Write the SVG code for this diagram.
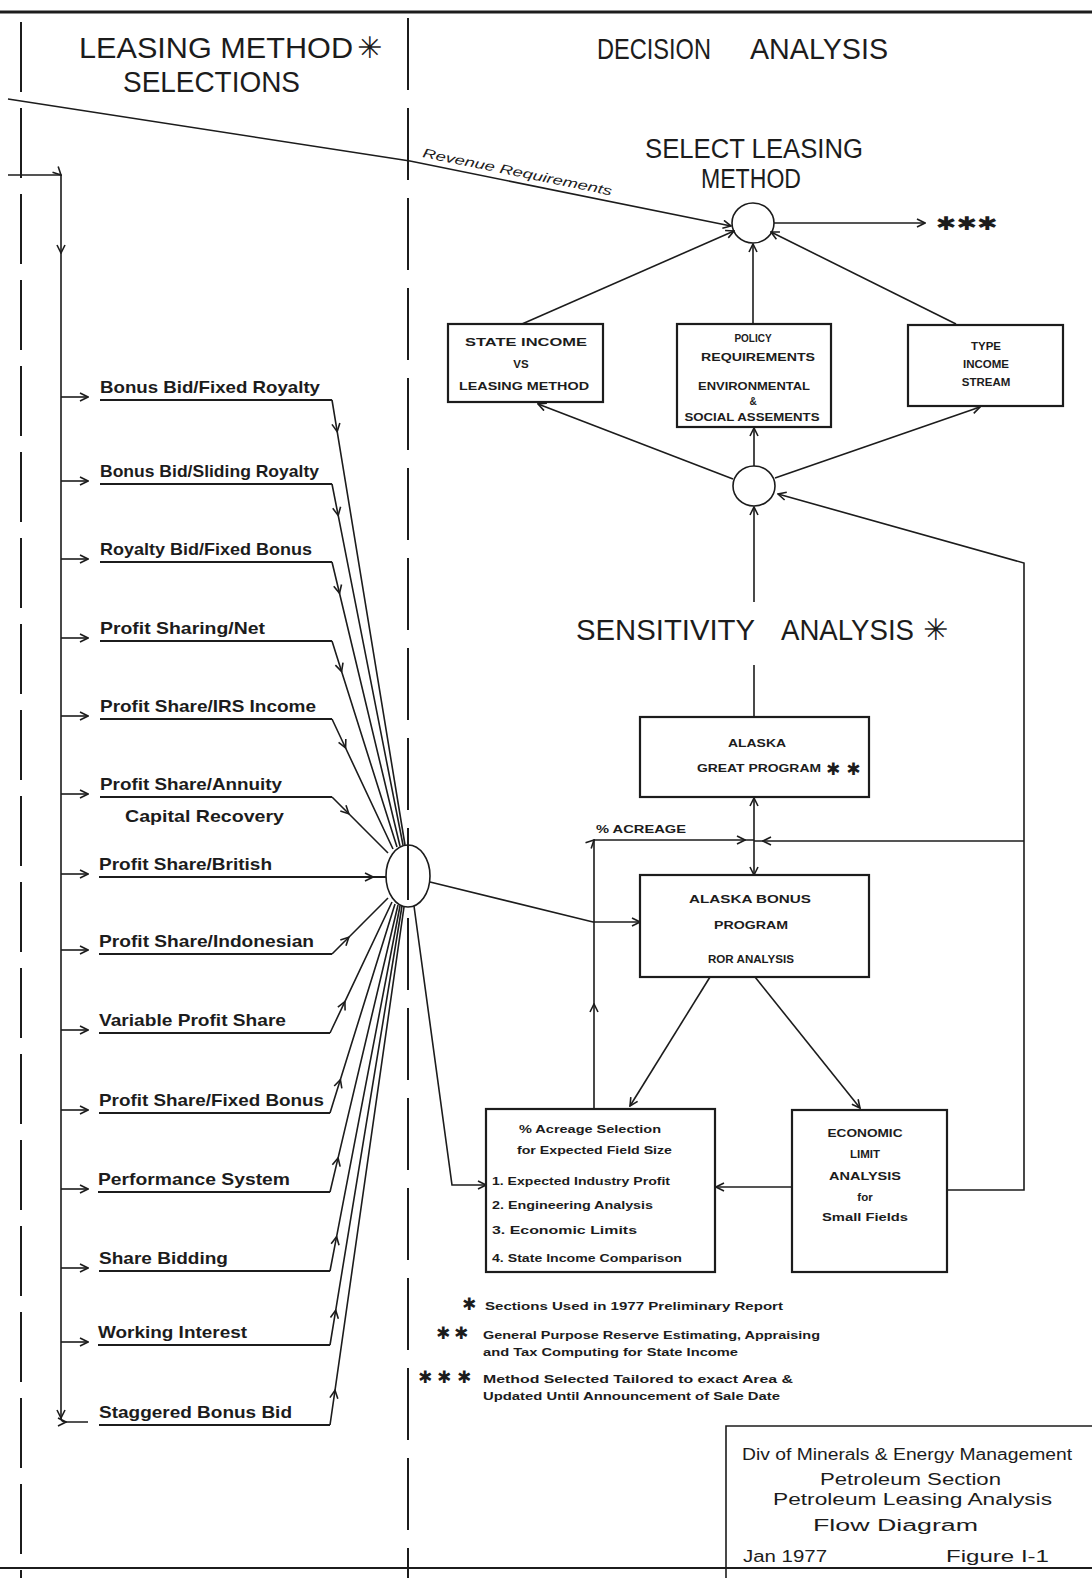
<svg xmlns="http://www.w3.org/2000/svg" width="1092" height="1578" viewBox="0 0 1092 1578">
<defs>
<marker id="a" viewBox="0 0 10 10" refX="9" refY="5" markerWidth="10" markerHeight="10" markerUnits="userSpaceOnUse" orient="auto"><path d="M1,1 L9,5 L1,9" fill="none" stroke="#1c1c1c" stroke-width="1.6"/></marker>
<marker id="b" viewBox="0 0 10 10" refX="9" refY="5" markerWidth="10" markerHeight="10" markerUnits="userSpaceOnUse" orient="auto-start-reverse"><path d="M1,1 L9,5 L1,9" fill="none" stroke="#1c1c1c" stroke-width="1.6"/></marker>
</defs>
<style>
.ln{fill:none;stroke:#1c1c1c;stroke-width:1.6}
.bx{fill:none;stroke:#1c1c1c;stroke-width:2.2}
.ul{fill:none;stroke:#1c1c1c;stroke-width:2.2}
.ar{marker-end:url(#a)}
.am{marker-mid:url(#a)}
.dash{fill:none;stroke:#1c1c1c;stroke-width:2}
text{fill:#1c1c1c;font-family:"Liberation Sans",Arial,sans-serif}
.t1{font-size:30px}
.t2{font-size:27px}
.it{font-size:17px;font-weight:bold}
.bt{font-size:11.5px;font-weight:bold;text-anchor:middle}
.bs{font-size:10px;font-weight:bold;text-anchor:middle}
.al{font-size:11px;font-weight:bold}
.fn{font-size:10.5px;font-weight:bold}
.tb{font-size:16px}
.st{font-family:"DejaVu Sans",sans-serif}
.fs{font-family:"DejaVu Sans",sans-serif;font-size:17px;font-weight:bold}
</style>
<rect x="0" y="0" width="1092" height="1578" fill="#ffffff"/>

<g id="frame">
<line x1="0" y1="12" x2="1092" y2="12" stroke="#1c1c1c" stroke-width="3"/>
<line x1="0" y1="1568" x2="1092" y2="1568" stroke="#1c1c1c" stroke-width="2"/>
<line class="dash" x1="21" y1="22" x2="21" y2="1578" stroke-dasharray="70 16"/>
<line class="dash" x1="408" y1="18" x2="408" y2="1578" stroke-dasharray="72 18"/>
</g>

<g id="headings">
<text class="t1" x="79" y="58" textLength="274" lengthAdjust="spacingAndGlyphs">LEASING METHOD</text>
<text class="t1 st" x="357" y="58" font-size="28">✳</text>
<text class="t1" x="123" y="92" textLength="177" lengthAdjust="spacingAndGlyphs">SELECTIONS</text>
<text class="t1" x="597" y="59" textLength="114" lengthAdjust="spacingAndGlyphs">DECISION</text>
<text class="t1" x="750" y="59" textLength="138" lengthAdjust="spacingAndGlyphs">ANALYSIS</text>
</g>

<g id="select-leasing-method">
<text class="t2" x="645" y="158" textLength="218" lengthAdjust="spacingAndGlyphs">SELECT LEASING</text>
<text class="t2" x="701" y="188" textLength="100" lengthAdjust="spacingAndGlyphs">METHOD</text>
<ellipse class="ln" cx="753" cy="223" rx="21" ry="20" stroke-width="1.8"/>
<text x="936" y="230" font-size="19" font-weight="bold" class="st" textLength="62" lengthAdjust="spacingAndGlyphs">✱✱✱</text>
</g>

<g id="state-income">
<rect class="bx" x="448" y="324" width="155" height="78"/>
<text class="bt" x="526" y="346" textLength="122" lengthAdjust="spacingAndGlyphs">STATE  INCOME</text>
<text class="bt" x="521" y="368">VS</text>
<text class="bt" x="524" y="390" textLength="130" lengthAdjust="spacingAndGlyphs">LEASING METHOD</text>
</g>

<g id="policy">
<rect class="bx" x="677" y="324" width="154" height="103"/>
<text class="bs" x="753" y="342">POLICY</text>
<text class="bs" x="758" y="361" textLength="114" lengthAdjust="spacingAndGlyphs">REQUIREMENTS</text>
<text class="bs" x="754" y="390" textLength="112" lengthAdjust="spacingAndGlyphs">ENVIRONMENTAL</text>
<text class="bs" x="753" y="405">&amp;</text>
<text class="bs" x="752" y="421" textLength="135" lengthAdjust="spacingAndGlyphs">SOCIAL ASSEMENTS</text>
</g>

<g id="type-income">
<rect class="bx" x="908" y="325" width="155" height="81"/>
<text class="bt" x="986" y="350">TYPE</text>
<text class="bt" x="986" y="368">INCOME</text>
<text class="bt" x="986" y="386">STREAM</text>
</g>

<g id="mid-junction">
<ellipse class="ln" cx="754" cy="486" rx="21" ry="20" stroke-width="1.8"/>
</g>

<g id="sensitivity">
<text class="t1" x="576" y="640" textLength="179" lengthAdjust="spacingAndGlyphs">SENSITIVITY</text>
<text class="t1" x="781" y="640" textLength="133" lengthAdjust="spacingAndGlyphs">ANALYSIS</text>
<text class="t1 st" x="923" y="640" font-size="28">✳</text>
</g>

<g id="great-program">
<rect class="bx" x="640" y="717" width="229" height="80"/>
<text class="bt" x="757" y="747" textLength="58" lengthAdjust="spacingAndGlyphs">ALASKA</text>
<text class="al" x="697" y="772" textLength="124" lengthAdjust="spacingAndGlyphs">GREAT PROGRAM</text>
<text class="st" x="826" y="775" font-size="17" font-weight="bold">✱ ✱</text>
</g>

<g id="bonus-program">
<rect class="bx" x="640" y="875" width="229" height="102"/>
<text class="bt" x="750" y="903" textLength="122" lengthAdjust="spacingAndGlyphs">ALASKA  BONUS</text>
<text class="bt" x="751" y="929" textLength="74" lengthAdjust="spacingAndGlyphs">PROGRAM</text>
<text class="bs" x="751" y="963" font-size="9" textLength="86" lengthAdjust="spacingAndGlyphs">ROR ANALYSIS</text>
</g>

<g id="acreage-label">
<text class="al" x="596" y="833" textLength="90" lengthAdjust="spacingAndGlyphs">% ACREAGE</text>
</g>

<g id="acreage-selection">
<rect class="bx" x="486" y="1109" width="229" height="163"/>
<text class="al" x="519" y="1133" textLength="142" lengthAdjust="spacingAndGlyphs">% Acreage  Selection</text>
<text class="al" x="517" y="1154" textLength="155" lengthAdjust="spacingAndGlyphs">for Expected Field Size</text>
<text class="al" x="492" y="1185" textLength="178" lengthAdjust="spacingAndGlyphs">1. Expected Industry Profit</text>
<text class="al" x="492" y="1209" textLength="161" lengthAdjust="spacingAndGlyphs">2. Engineering  Analysis</text>
<text class="al" x="492" y="1234" textLength="145" lengthAdjust="spacingAndGlyphs">3. Economic  Limits</text>
<text class="al" x="492" y="1262" textLength="190" lengthAdjust="spacingAndGlyphs">4. State Income Comparison</text>
</g>

<g id="economic-limit">
<rect class="bx" x="792" y="1110" width="155" height="162"/>
<text class="bt" x="865" y="1137" textLength="75" lengthAdjust="spacingAndGlyphs">ECONOMIC</text>
<text class="bt" x="865" y="1158">LIMIT</text>
<text class="bt" x="865" y="1180" textLength="72" lengthAdjust="spacingAndGlyphs">ANALYSIS</text>
<text class="bt" x="865" y="1201" font-weight="normal">for</text>
<text class="bt" x="865" y="1221" textLength="86" lengthAdjust="spacingAndGlyphs">Small Fields</text>
</g>

<g id="left-junction">
<ellipse class="ln" cx="408" cy="876" rx="22" ry="31" stroke-width="1.8"/>
</g>

<g id="items">
<g id="item-1"><text class="it" x="100" y="393" textLength="220" lengthAdjust="spacingAndGlyphs">Bonus Bid/Fixed Royalty</text><line class="ul" x1="100" y1="400" x2="332" y2="400"/></g>
<g id="item-2"><text class="it" x="100" y="477" textLength="219" lengthAdjust="spacingAndGlyphs">Bonus Bid/Sliding Royalty</text><line class="ul" x1="100" y1="484" x2="332" y2="484"/></g>
<g id="item-3"><text class="it" x="100" y="555" textLength="212" lengthAdjust="spacingAndGlyphs">Royalty Bid/Fixed Bonus</text><line class="ul" x1="100" y1="562" x2="332" y2="562"/></g>
<g id="item-4"><text class="it" x="100" y="634" textLength="165" lengthAdjust="spacingAndGlyphs">Profit Sharing/Net</text><line class="ul" x1="100" y1="641" x2="332" y2="641"/></g>
<g id="item-5"><text class="it" x="100" y="712" textLength="216" lengthAdjust="spacingAndGlyphs">Profit Share/IRS Income</text><line class="ul" x1="100" y1="719" x2="332" y2="719"/></g>
<g id="item-6"><text class="it" x="100" y="790" textLength="182" lengthAdjust="spacingAndGlyphs">Profit Share/Annuity</text><line class="ul" x1="100" y1="797" x2="332" y2="797"/><text class="it" x="125" y="822" textLength="159" lengthAdjust="spacingAndGlyphs">Capital Recovery</text></g>
<g id="item-7"><text class="it" x="99" y="870" textLength="173" lengthAdjust="spacingAndGlyphs">Profit Share/British</text></g>
<g id="item-8"><text class="it" x="99" y="947" textLength="215" lengthAdjust="spacingAndGlyphs">Profit Share/Indonesian</text><line class="ul" x1="99" y1="954" x2="332" y2="954"/></g>
<g id="item-9"><text class="it" x="99" y="1026" textLength="187" lengthAdjust="spacingAndGlyphs">Variable Profit Share</text><line class="ul" x1="99" y1="1033" x2="330" y2="1033"/></g>
<g id="item-10"><text class="it" x="99" y="1106" textLength="225" lengthAdjust="spacingAndGlyphs">Profit Share/Fixed Bonus</text><line class="ul" x1="99" y1="1113" x2="330" y2="1113"/></g>
<g id="item-11"><text class="it" x="98" y="1185" textLength="192" lengthAdjust="spacingAndGlyphs">Performance System</text><line class="ul" x1="98" y1="1192" x2="330" y2="1192"/></g>
<g id="item-12"><text class="it" x="99" y="1264" textLength="129" lengthAdjust="spacingAndGlyphs">Share Bidding</text><line class="ul" x1="99" y1="1271" x2="330" y2="1271"/></g>
<g id="item-13"><text class="it" x="98" y="1338" textLength="149" lengthAdjust="spacingAndGlyphs">Working Interest</text><line class="ul" x1="98" y1="1345" x2="330" y2="1345"/></g>
<g id="item-14"><text class="it" x="99" y="1418" textLength="193" lengthAdjust="spacingAndGlyphs">Staggered Bonus Bid</text><line class="ul" x1="99" y1="1425" x2="330" y2="1425"/></g>
</g>

<g id="footnotes">
<text class="fs" x="462" y="1310">✱</text>
<text class="fn" x="485" y="1310" textLength="298" lengthAdjust="spacingAndGlyphs">Sections Used in 1977 Preliminary Report</text>
<text class="fs" x="436" y="1339">✱</text>
<text class="fs" x="454" y="1339">✱</text>
<text class="fn" x="483" y="1339" textLength="337" lengthAdjust="spacingAndGlyphs">General Purpose Reserve Estimating, Appraising</text>
<text class="fn" x="483" y="1356" textLength="255" lengthAdjust="spacingAndGlyphs">and Tax Computing for State Income</text>
<text class="fs" x="418" y="1383">✱</text>
<text class="fs" x="437" y="1383">✱</text>
<text class="fs" x="457" y="1383">✱</text>
<text class="fn" x="483" y="1383" textLength="310" lengthAdjust="spacingAndGlyphs">Method Selected Tailored to exact Area &amp;</text>
<text class="fn" x="483" y="1400" textLength="297" lengthAdjust="spacingAndGlyphs">Updated Until Announcement of Sale Date</text>
</g>

<g id="title-block">
<path class="ln" d="M726,1578 V1426 H1092" stroke-width="1.8"/>
<text class="tb" x="742" y="1460" textLength="330" lengthAdjust="spacingAndGlyphs">Div of Minerals &amp; Energy Management</text>
<text class="tb" x="820" y="1485" textLength="181" lengthAdjust="spacingAndGlyphs">Petroleum Section</text>
<text class="tb" x="773" y="1505" textLength="279" lengthAdjust="spacingAndGlyphs">Petroleum Leasing Analysis</text>
<text class="tb" x="813" y="1531" textLength="165" lengthAdjust="spacingAndGlyphs">Flow Diagram</text>
<text class="tb" x="743" y="1562" textLength="84" lengthAdjust="spacingAndGlyphs">Jan 1977</text>
<text class="tb" x="946" y="1562" textLength="103" lengthAdjust="spacingAndGlyphs">Figure I-1</text>
</g>

<g id="connectors">
<!-- revenue requirements -->
<path class="ln ar" d="M8,99 L410,161 L731,226" stroke-width="2.2"/>
<text transform="translate(422,157) rotate(11.5)" font-size="13" font-style="italic" textLength="193" lengthAdjust="spacingAndGlyphs">Revenue Requirements</text>
<!-- bracket -->
<path class="ln am" d="M8,175 H61 V253 V1418 Q61,1422 66,1422 L88,1422" stroke-width="1.8"/>
<path class="ln ar" d="M61,397 H88"/>
<path class="ln ar" d="M61,481 H88"/>
<path class="ln ar" d="M61,559 H88"/>
<path class="ln ar" d="M61,638 H88"/>
<path class="ln ar" d="M61,716 H88"/>
<path class="ln ar" d="M61,794 H88"/>
<path class="ln ar" d="M61,874 H88"/>
<path class="ln ar" d="M61,950 H88"/>
<path class="ln ar" d="M61,1030 H88"/>
<path class="ln ar" d="M61,1110 H88"/>
<path class="ln ar" d="M61,1189 H88"/>
<path class="ln ar" d="M61,1268 H88"/>
<path class="ln ar" d="M61,1342 H88"/>
<!-- items to left junction -->
<path class="ln am" d="M332,400 L337.2,431.6 L405,845"/>
<path class="ln am" d="M332,484 L338.2,515.4 L403,845"/>
<path class="ln am" d="M332,562 L339.5,593.2 L400,846"/>
<path class="ln am" d="M332,641 L341.6,671.5 L397,847"/>
<path class="ln am" d="M332,719 L345.6,748 L393,849"/>
<path class="ln am" d="M332,797 L348.8,813.8 L388,853"/>
<path class="ul am" d="M99,877 L373,877 L386,877"/>
<path class="ln am" d="M332,954 L348.8,937.2 L388,898"/>
<path class="ln am" d="M330,1033 L344.9,1001.6 L392,902"/>
<path class="ln am" d="M330,1113 L340.4,1079.6 L395,904"/>
<path class="ln am" d="M330,1192 L338.1,1157.9 L398,905"/>
<path class="ln am" d="M330,1271 L336.6,1236.7 L400,906"/>
<path class="ln am" d="M330,1345 L335.7,1310.3 L402,906"/>
<path class="ln am" d="M330,1425 L335,1390.3 L404,907"/>
<!-- left junction outputs -->
<path class="ln ar" d="M430,882 L593,922 L640,922"/>
<path class="ln ar" d="M414,906 L452,1185 L486,1185"/>
<!-- top boxes to select circle -->
<path class="ln ar" d="M522,324 L734,231" stroke-width="1.8"/>
<path class="ln ar" d="M753,324 L753,244"/>
<path class="ln ar" d="M956,324 L771,232" stroke-width="1.8"/>
<path class="ln ar" d="M774,223 L925,223" stroke-width="1.8"/>
<!-- mid junction to boxes -->
<path class="ln ar" d="M733,479 L538,404" stroke-width="1.8"/>
<path class="ln ar" d="M754,466 L754,428"/>
<path class="ln ar" d="M775,478 L980,407" stroke-width="1.8"/>
<!-- sensitivity path -->
<path class="ln ar" d="M754,602 L754,507"/>
<path class="ln" d="M754,665 L754,717"/>
<path class="ln" d="M754,798 L754,875" marker-start="url(#b)" marker-end="url(#b)"/>
<!-- acreage loop -->
<path class="ln am" d="M594,1109 L594,1004 L594,840 L745,840 L754,840"/>
<path class="ln am" d="M1024,841 L763,841 L754,841"/>
<path class="ln ar" d="M947,1190 L1024,1190 L1024,563 L778,494" stroke-width="1.8"/>
<path class="ln ar" d="M792,1187 L716,1187"/>
<path class="ln ar" d="M710,977 L630,1106"/>
<path class="ln ar" d="M755,977 L860,1108"/>
</g>
</svg>
